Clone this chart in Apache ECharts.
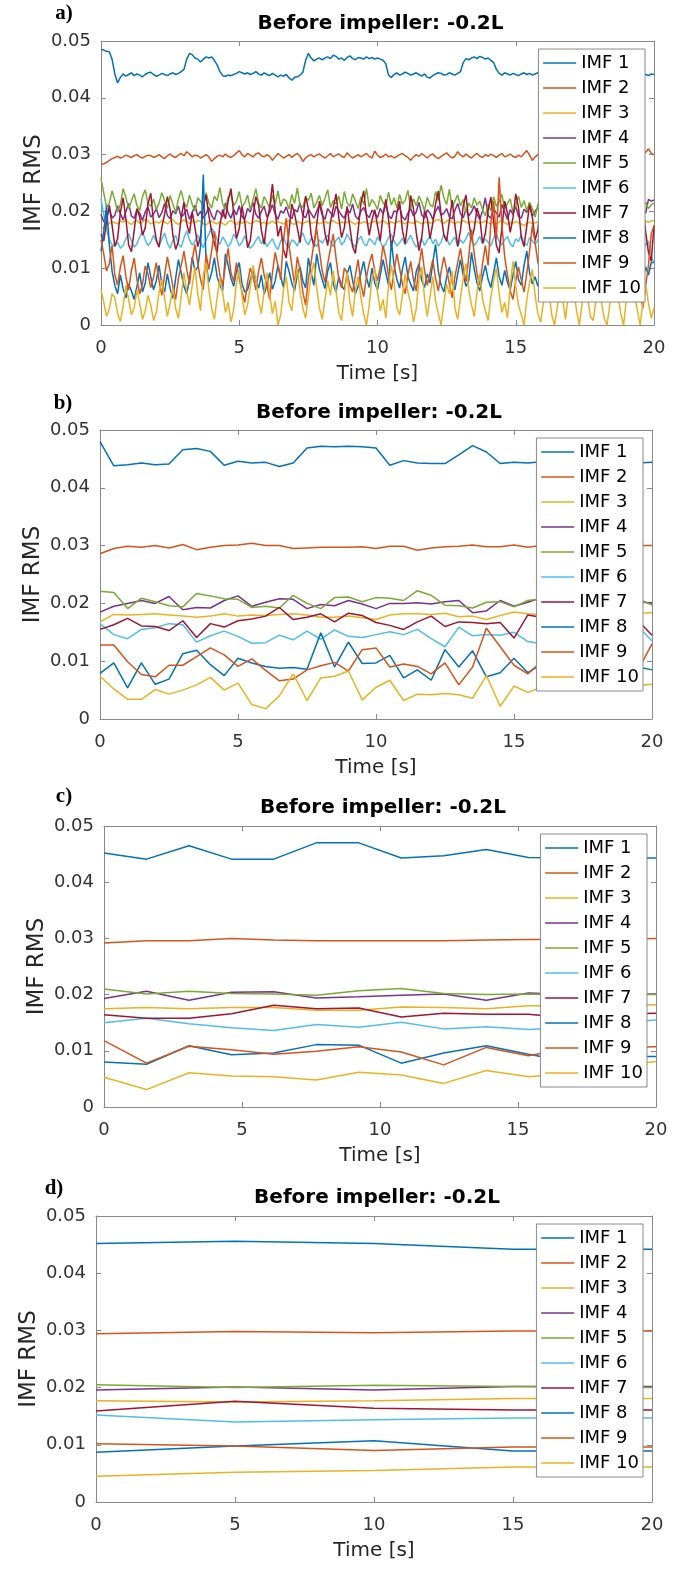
<!DOCTYPE html>
<html><head><meta charset="utf-8">
<script src="https://cdn.jsdelivr.net/npm/echarts@6/dist/echarts.min.js"></script>
<style>html,body{margin:0;padding:0;background:#fff}#c{width:692px;height:1569px}</style>
</head><body><div id="c"></div>
<script>
// All RMS values are stored in units of 1e-4 (e.g. 442 -> 0.0442)
const UNIT = 1e-4;
const DURATION = 20; // seconds, evenly sampled series span 0..20 s

const seriesNames = ['IMF 1','IMF 2','IMF 3','IMF 4','IMF 5','IMF 6','IMF 7','IMF 8','IMF 9','IMF 10'];
const xTicks = [0, 5, 10, 15, 20];
const panelLabels = ['a)', 'b)', 'c)', 'd)'];
const titleText = 'Before impeller: -0.2L';

// ---------- panel a (dense sampling) ----------
const imf1A = [485,484,482,481,468,442,426,436,442,438,441,444,439,442,440,437,441,444,445,441,
438,440,443,441,439,442,444,441,443,446,450,468,478,476,470,468,463,468,472,470,
472,466,458,446,439,438,440,439,441,443,446,444,442,444,441,443,446,442,440,444,
441,439,443,440,437,440,438,441,435,431,436,437,440,445,466,478,470,465,468,470,
467,470,472,469,475,473,468,470,466,471,474,469,467,471,470,468,472,469,471,468,
470,468,466,460,440,436,441,444,440,442,445,443,440,442,444,441,438,442,436,435,
439,442,444,443,440,441,444,442,440,443,446,462,469,467,470,472,469,473,471,468,
470,466,462,450,443,440,444,442,440,443,441,439,442,444,441,443,440,442,444,441,
443,440,442,444,441,439,442,443,440,442,444,441,443,440,442,441,443,440,442,444,
441,443,440,442,444,441,439,442,443,441,440,442,444,441,443,440,442,441,439,442,441];
const imf2A = [283,284,286,290,293,295,297,294,296,299,297,295,298,300,296,294,297,299,298,295,
297,300,296,293,298,301,297,295,299,302,298,305,301,296,299,298,294,297,300,296,
288,293,297,299,296,301,297,295,298,303,307,300,296,302,299,296,301,303,298,296,
300,297,290,296,302,298,294,297,300,295,299,302,297,288,294,298,300,296,299,301,
297,294,298,302,296,299,301,297,295,303,298,294,297,300,296,299,302,297,294,306,
299,295,297,301,296,298,294,297,300,302,298,295,290,296,300,297,302,298,294,299,
301,296,293,297,300,303,298,294,297,305,299,296,301,297,294,299,302,297,295,300,
297,301,298,295,299,302,296,298,301,297,295,299,296,302,307,299,290,296,300,297,
299,302,298,295,300,297,301,298,296,299,302,297,295,300,298,296,301,297,299,302,
298,296,300,297,301,299,295,298,302,297,299,296,300,298,301,297,299,304,310,302,300];
const imf3A = [168,172,176,179,182,180,178,183,181,185,180,177,182,184,179,181,186,183,178,180,
182,179,184,181,178,183,186,180,177,182,185,181,179,183,180,184,182,178,176,181,
183,180,178,182,179,176,181,184,180,177,182,179,183,181,178,180,184,182,179,181,
177,180,183,179,182,180,178,181,184,179,177,182,180,178,181,183,179,180,182,178,
180,183,179,181,184,180,178,182,179,181,183,180,177,181,179,182,180,178,181,183,
179,181,184,180,177,182,179,181,183,180,178,182,180,179,183,181,178,180,182,179,
181,184,186,182,179,183,185,181,178,182,180,184,181,179,183,180,182,179,181,183,
180,178,182,179,181,184,180,177,181,179,182,180,178,175,179,181,178,180,182,179,
181,179,182,180,178,181,183,180,179,182,180,178,181,183,180,179,182,181,178,180,
182,179,181,183,180,178,182,180,179,181,183,180,178,181,184,182,185,183,181,183,184];
const imf4A = [195,182,190,205,188,193,210,196,185,200,214,192,188,203,197,184,199,208,190,195,
205,189,198,214,193,187,201,196,209,190,195,204,186,198,211,192,200,188,196,207,
193,185,202,198,190,215,197,188,203,194,210,191,186,205,199,216,195,188,200,209,
190,198,212,195,186,201,197,208,192,187,203,199,215,193,189,204,196,188,200,211,
194,186,205,198,190,209,201,193,188,204,197,213,192,186,200,207,195,189,202,198,
189,205,196,212,193,187,201,199,208,190,185,197,205,192,199,216,194,188,203,197,
186,200,209,193,197,205,190,187,202,214,196,189,204,192,199,210,195,186,201,224,
193,188,205,197,190,212,199,186,203,195,209,191,188,204,198,215,192,200,207,194,
190,203,198,187,210,196,189,205,199,193,212,188,197,245,191,200,209,195,187,202,
198,211,192,188,205,197,203,190,214,196,189,201,208,193,199,216,203,197,221,218,220];
const imf5A = [258,232,208,215,236,220,199,212,240,225,205,218,231,210,202,226,238,214,209,222,
203,215,233,219,205,228,213,198,222,237,216,207,229,212,201,224,218,209,233,215,
206,227,219,242,213,204,225,231,210,218,235,208,215,229,203,221,240,214,206,226,
217,205,229,213,236,209,222,218,204,230,214,241,211,207,225,219,232,206,216,228,
210,223,238,207,219,213,227,204,235,215,209,231,218,205,226,212,240,208,221,214,
203,228,215,209,234,211,224,206,230,213,219,237,205,222,210,227,216,201,225,212,
208,235,219,246,224,212,239,207,218,229,210,221,197,215,206,224,211,218,203,192,
213,201,226,209,217,230,204,214,222,198,210,227,207,219,201,216,205,190,212,221,
206,223,211,202,228,215,207,220,212,204,226,209,218,202,224,213,206,219,208,215,
210,224,205,217,212,229,207,221,213,204,218,210,223,207,215,222,209,216,205,212,215];
const imf6A = [222,195,168,150,142,138,146,135,140,152,161,148,137,143,155,165,150,140,146,158,
147,139,151,162,144,135,149,158,142,137,153,166,150,141,147,159,145,136,150,160,
171,163,150,142,155,148,137,145,160,152,139,146,157,144,135,140,149,156,143,151,
138,145,152,140,133,148,155,142,136,150,147,139,154,162,148,141,153,145,138,150,
144,152,158,146,138,149,155,141,147,160,151,143,137,150,156,144,139,152,148,141,
155,147,136,143,154,160,148,139,145,153,141,150,158,146,137,144,152,140,149,157,
143,151,139,146,160,153,141,148,155,138,150,144,152,163,148,140,147,156,143,151,
146,139,153,160,147,141,150,156,143,138,152,147,159,145,140,154,148,142,150,157,
144,152,139,147,155,142,150,158,146,140,153,145,138,151,160,147,143,149,156,141,
150,146,139,153,147,142,156,148,141,152,145,139,150,157,146,143,151,140,148,121,110];
const imf7A = [160,148,182,211,176,139,152,198,224,187,141,129,166,205,190,158,171,214,232,180,
150,137,172,195,226,204,158,133,147,189,216,178,161,199,171,138,156,208,229,193,
165,143,128,176,203,187,219,240,196,152,170,209,181,136,149,192,226,211,167,142,
183,207,248,201,156,174,132,118,165,213,196,171,145,188,227,205,159,137,176,218,
199,162,140,181,206,231,189,154,171,209,173,138,126,167,214,236,192,158,185,203,
175,148,194,221,186,137,159,197,218,167,143,182,228,205,163,131,154,201,188,152,
179,213,236,194,158,147,184,220,175,139,166,210,229,182,151,170,206,189,144,161,
202,225,181,140,127,172,218,197,163,189,231,207,154,138,175,212,190,149,168,214,
195,153,134,179,226,203,165,148,187,222,178,140,163,209,235,184,150,176,201,170,
142,166,211,190,148,173,219,232,181,139,157,202,224,170,146,188,210,163,128,112,175];
const imf8A = [130,165,210,142,95,70,55,88,64,48,72,60,45,68,92,58,74,110,85,62,
78,105,72,58,90,64,47,82,115,92,68,55,80,120,95,102,138,265,110,75,
92,118,85,70,60,125,105,82,68,95,110,72,58,62,80,98,76,65,88,54,
70,92,63,78,105,85,66,112,95,74,60,88,102,78,65,118,92,70,125,98,
80,64,95,110,72,58,85,70,62,90,105,78,55,68,92,112,84,66,100,74,
62,88,115,92,70,148,105,80,65,98,120,85,72,60,94,108,78,66,90,74,
110,142,95,70,58,84,102,76,62,90,115,88,68,78,128,98,74,60,85,105,
80,66,92,118,85,70,96,75,62,88,112,80,70,105,130,92,72,85,68,95,
120,88,70,92,105,78,62,84,110,90,68,80,98,72,60,88,115,82,70,94,
76,62,90,108,82,68,95,74,60,86,112,80,68,92,70,58,85,102,88,110,110];
const imf9A = [150,125,95,108,140,88,70,102,122,85,62,96,118,80,55,72,104,90,66,84,
110,78,52,88,120,95,68,45,82,105,130,98,72,115,142,108,80,62,125,98,
130,165,120,88,70,105,135,92,76,110,82,58,40,75,100,85,62,95,118,88,
70,45,92,128,105,80,150,188,140,105,72,120,96,58,35,82,110,145,170,130,
95,75,108,135,160,118,82,65,100,92,70,58,88,115,72,50,84,108,125,95,
78,102,140,118,86,62,95,125,100,72,55,88,112,80,60,104,135,96,70,92,
115,82,60,94,120,98,72,48,85,110,135,102,76,120,168,125,90,70,108,140,
105,180,218,150,260,175,120,88,60,45,78,102,80,58,92,130,175,145,110,95,
88,62,95,120,80,55,40,72,105,88,60,82,110,135,98,72,50,85,112,78,
60,90,118,95,70,52,80,108,85,62,95,125,150,110,78,52,30,70,105,160,175];
const imf10A = [62,40,15,28,55,48,20,6,33,70,45,18,30,62,38,10,25,52,35,8,
22,58,80,47,15,38,66,29,12,50,92,60,35,70,102,55,25,88,110,62,
30,10,48,82,58,22,40,5,28,75,95,52,18,35,68,105,80,42,20,60,
92,55,20,42,0,18,62,85,40,25,72,100,58,30,12,50,88,110,65,30,
10,45,78,52,95,60,22,8,55,92,40,15,62,85,48,20,0,35,80,100,
58,25,45,12,70,105,75,30,18,52,90,58,38,5,28,80,102,48,15,50,
85,42,20,0,38,72,55,95,30,10,48,82,108,62,35,15,58,90,45,25,
8,50,78,100,55,22,40,12,70,112,68,35,18,0,45,75,98,52,20,5,
40,82,60,18,0,30,72,45,10,55,92,62,25,0,38,80,48,15,8,42,
75,40,12,0,35,70,95,50,20,0,45,78,100,55,25,0,40,72,38,12,30];

// ---------- panel b (0.5 s steps) ----------
const imf1B = [480,438,440,443,440,441,466,468,463,439,446,443,444,437,443,469,472,471,472,471,469,439,447,443,442,442,457,473,462,442,444,443,445,444,443,445,444,443,444,443,444];
const imf2B = [286,295,299,297,300,296,302,293,297,300,301,304,300,300,295,296,297,297,297,298,295,299,299,292,296,298,299,301,298,298,301,297,300,299,300,299,300,298,299,300,300];
const imf3B = [168,181,180,181,182,180,178,176,178,182,178,180,179,181,182,180,176,176,178,175,172,180,182,182,181,183,177,178,172,179,185,182,181,180,179,181,180,182,181,183,184];
const imf4B = [185,195,200,205,200,212,189,193,192,205,213,195,202,208,207,191,198,196,205,199,191,200,200,201,199,203,205,184,187,205,195,202,210,205,200,203,198,201,204,202,201];
const imf5B = [221,219,191,209,203,196,194,217,213,208,207,193,195,192,214,200,191,210,211,203,210,209,205,222,214,197,196,192,202,203,194,205,208,204,201,206,203,200,205,208,197];
const imf6B = [165,146,139,155,158,165,163,133,144,152,143,131,132,145,137,152,138,154,143,141,146,151,146,155,139,125,159,144,146,145,150,134,130,138,145,140,148,152,158,160,135];
const imf7B = [155,163,174,161,160,153,170,141,165,159,170,173,178,193,172,176,182,168,183,179,167,162,155,168,178,160,168,167,165,167,140,180,176,170,165,172,168,160,163,170,145];
const imf8B = [79,97,54,97,60,69,113,119,94,75,105,97,91,88,89,86,149,90,133,96,97,110,71,85,67,120,90,118,73,80,105,80,95,110,88,100,85,95,120,90,85];
const imf9B = [128,128,99,77,73,93,93,108,123,111,91,104,84,66,69,85,92,98,83,120,123,90,95,91,78,97,59,90,157,125,93,78,100,110,95,88,105,98,92,85,130];
const imf10B = [74,52,34,34,51,43,50,59,72,50,62,25,18,40,78,32,71,74,83,33,55,67,32,43,42,44,42,36,75,22,57,46,55,60,52,58,62,55,60,58,60];

// ---------- panel c ----------
const timeC = [0,1.54,3.08,4.62,6.15,7.69,9.23,10.77,12.31,13.85,15.38,16.92,18.46,20];
const imf1C = [452,441,465,441,441,470,470,443,447,458,444,443,443,443];
const imf2C = [292,296,296,300,297,296,296,296,296,297,298,298,299,300];
const imf3C = [175,177,175,177,177,172,172,178,177,175,180,180,180,182];
const imf4C = [193,206,190,204,205,194,196,199,201,190,203,200,200,201];
const imf5C = [210,201,206,202,201,199,207,211,202,200,201,200,200,200];
const imf6C = [150,158,148,141,136,147,142,151,139,143,138,142,150,155];
const imf7C = [164,158,158,166,181,175,176,160,167,165,165,158,165,167];
const imf8C = [80,76,109,93,96,111,110,78,96,109,94,80,90,90];
const imf9C = [118,78,108,102,94,99,107,98,75,106,91,105,106,107];
const imf10C = [53,31,61,55,54,48,62,57,42,65,54,60,72,81];

// ---------- panel d ----------
const timeD = [0,5,10,15,20];
const imf1D = [452,456,452,442,442];
const imf2D = [294,298,296,299,299];
const imf3D = [177,175,177,181,181];
const imf4D = [196,201,196,202,202];
const imf5D = [205,200,204,202,200];
const imf6D = [152,140,144,147,147];
const imf7D = [159,176,164,161,161];
const imf8D = [87,98,107,89,89];
const imf9D = [102,98,90,96,96];
const imf10D = [45,52,55,61,61];

// ---------- styling / layout ----------
const colors = ['#0072BD','#D95319','#EDB120','#7E2F8E','#77AC30','#4DBEEE','#A2142F','#0072BD','#D95319','#EDB120'];
const FONT = 'DejaVu Sans';
const AX = '#8a8a8a';
const CW = 692;

const panels = [
  {label: panelLabels[0], grid:{left:101, top:41, width:553, height:284}, titleY:24, labelPos:[64,14],
   times:null, values:[imf1A,imf2A,imf3A,imf4A,imf5A,imf6A,imf7A,imf8A,imf9A,imf10A]},
  {label: panelLabels[1], grid:{left:100, top:430, width:552, height:289}, titleY:413, labelPos:[63,404],
   times:null, values:[imf1B,imf2B,imf3B,imf4B,imf5B,imf6B,imf7B,imf8B,imf9B,imf10B]},
  {label: panelLabels[2], grid:{left:104, top:826, width:552, height:281}, titleY:808, labelPos:[64,797],
   times:timeC, values:[imf1C,imf2C,imf3C,imf4C,imf5C,imf6C,imf7C,imf8C,imf9C,imf10C]},
  {label: panelLabels[3], grid:{left:96, top:1216, width:556, height:286}, titleY:1198, labelPos:[54,1189],
   times:timeD, values:[imf1D,imf2D,imf3D,imf4D,imf5D,imf6D,imf7D,imf8D,imf9D,imf10D]}
];

const option = {animation:false, backgroundColor:'#fff', grid:[], xAxis:[], yAxis:[], legend:[], series:[], graphic:[]};

panels.forEach((p, pi) => {
  option.grid.push(Object.assign({containLabel:false}, p.grid));
  const line = {show:true, onZero:false, lineStyle:{color:AX, width:1}};
  const tick = {show:true, inside:true, length:5, lineStyle:{color:AX, width:1}};
  const xBase = {gridIndex:pi, type:'value', min:xTicks[0], max:xTicks[xTicks.length-1], interval:5,
                 splitLine:{show:false}, axisLine:line, axisTick:tick};
  option.xAxis.push(Object.assign({}, xBase, {position:'bottom',
    axisLabel:{margin:14, fontSize:18, fontFamily:FONT, color:'#333'},
    name:'Time [s]', nameLocation:'middle', nameGap:39, nameMoveOverlap:false,
    nameTextStyle:{fontSize:20, fontFamily:FONT, color:'#262626'}}));
  option.xAxis.push(Object.assign({}, xBase, {position:'top', axisLabel:{show:false}}));
  const yBase = {gridIndex:pi, type:'value', min:0, max:0.05, interval:0.01,
                 splitLine:{show:false}, axisLine:line, axisTick:tick};
  option.yAxis.push(Object.assign({}, yBase, {position:'left',
    axisLabel:{margin:10, fontSize:18, fontFamily:FONT, color:'#333',
               formatter: v => v === 0 ? '0' : v.toFixed(2)},
    name:'IMF RMS', nameLocation:'middle', nameGap:55, nameMoveOverlap:false,
    nameTextStyle:{fontSize:23, fontFamily:FONT, color:'#262626'}}));
  option.yAxis.push(Object.assign({}, yBase, {position:'right', axisLabel:{show:false}}));

  p.values.forEach((vals, k) => {
    const n = vals.length;
    const data = vals.map((v, i) => [p.times ? p.times[i] : i * DURATION / (n - 1), v * UNIT]);
    option.series.push({type:'line', name:seriesNames[k], xAxisIndex:2*pi, yAxisIndex:2*pi,
      data, symbol:'none', showSymbol:false, silent:true,
      lineStyle:{width:1.5, color:colors[k]}, itemStyle:{color:colors[k]}});
  });

  const plotRight = p.grid.left + p.grid.width;
  option.legend.push({data:seriesNames, orient:'vertical', right: CW - (plotRight - 9), top: p.grid.top + 8,
    padding:[5,4,5,4], itemGap:7, itemWidth:33, itemHeight:10, selectedMode:false,
    itemStyle:{opacity:0, borderWidth:0}, lineStyle:{width:1.5},
    backgroundColor:'#fff', borderColor:AX, borderWidth:1, borderRadius:0,
    textStyle:{fontSize:18, fontFamily:FONT, color:'#000', lineHeight:18}});

  option.graphic.push({type:'text', x: p.grid.left + p.grid.width/2 + 3, y: p.titleY, z:10,
    style:{text:titleText, font:'bold 20px "DejaVu Sans"', fill:'#000', align:'center', verticalAlign:'middle'}});
  option.graphic.push({type:'text', x: p.labelPos[0], y: p.labelPos[1], z:10,
    style:{text:p.label, font:'bold 21px "Liberation Serif"', fill:'#000', align:'center', verticalAlign:'middle'}});
});

const chart = echarts.init(document.getElementById('c'), null, {renderer:'canvas'});
chart.setOption(option);
</script>
</body></html>
